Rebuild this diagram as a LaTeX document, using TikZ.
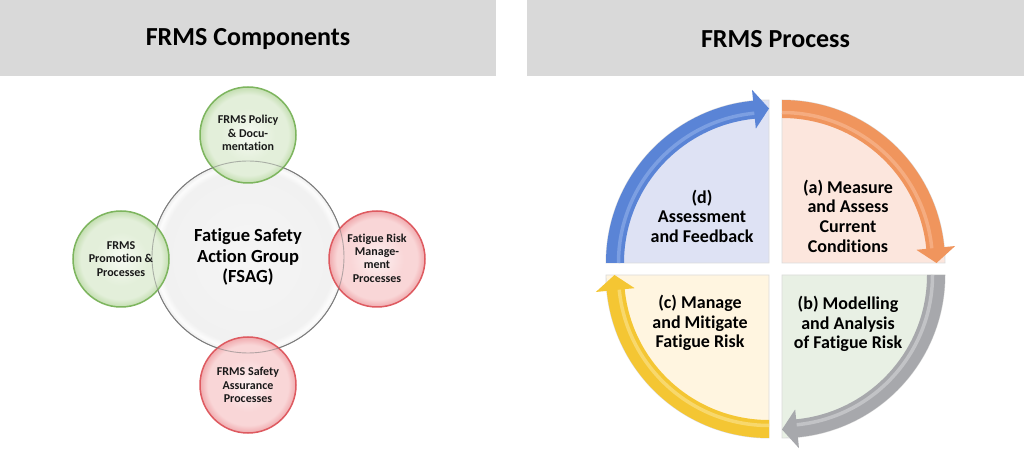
\documentclass[tikz,border=0pt]{standalone}
\usepackage{fontspec}
\setmainfont{Carlito}[Ligatures={NoCommon}]
\definecolor{hdrgray}{HTML}{D9D9D9}
\definecolor{grnline}{HTML}{7DB55E}
\definecolor{grnin}{HTML}{F6FAF2}
\definecolor{grnmid}{HTML}{E3EFDA}
\definecolor{grnout}{HTML}{C3DEB0}
\definecolor{redline}{HTML}{DE5A60}
\definecolor{redin}{HTML}{FDF2F2}
\definecolor{redmid}{HTML}{F9D6D7}
\definecolor{redout}{HTML}{F0AAAE}
\definecolor{bigin}{HTML}{F5F5F5}
\definecolor{bigmid}{HTML}{F1F1F1}
\definecolor{bigring}{HTML}{FCFCFC}
\definecolor{bigout}{HTML}{EDEDED}
\definecolor{bigline}{HTML}{7A7A7A}
\definecolor{bluband}{HTML}{5A84D6}
\definecolor{blustripe}{HTML}{7C9FE2}
\definecolor{blufill}{HTML}{DEE2F4}
\definecolor{orband}{HTML}{F0955D}
\definecolor{orstripe}{HTML}{F5AC80}
\definecolor{orfill}{HTML}{FCE6DD}
\definecolor{grband}{HTML}{A7A8AC}
\definecolor{grstripe}{HTML}{C2C3C6}
\definecolor{grfill}{HTML}{E8F0E4}
\definecolor{yeband}{HTML}{F4C633}
\definecolor{yestripe}{HTML}{F8D86C}
\definecolor{yefill}{HTML}{FFF5E0}
\pgfdeclareradialshading{greenball}{\pgfpoint{0bp}{0bp}}{color(0bp)=(grnin); color(14bp)=(grnmid); color(21bp)=(grnmid); color(25bp)=(grnout); color(50bp)=(grnout)}
\pgfdeclareradialshading{redball}{\pgfpoint{0bp}{0bp}}{color(0bp)=(redin); color(14bp)=(redmid); color(21bp)=(redmid); color(25bp)=(redout); color(50bp)=(redout)}
\pgfdeclareradialshading{bigball}{\pgfpoint{0bp}{0bp}}{color(0bp)=(bigin); color(22.5bp)=(bigmid); color(24bp)=(bigring); color(25bp)=(bigout); color(50bp)=(bigout)}
\newcommand\myquad[6]{%
  \begin{scope}[shift={(#1,#2)}]
    \pgfmathsetmacro\qe{#3-90}
    \pgfmathsetmacro\qb{#3-84.4}
    \filldraw[fill=#6, draw=black!14, line width=0.9bp] (0,0) -- (#3:163) arc[start angle=#3, end angle=\qe, radius=163] -- cycle;
    \fill[#4] (#3:163) arc[start angle=#3, end angle=\qb, radius=163] -- (\qb:174) -- (\qe:154.5) -- (\qb:135) -- (\qb:145) arc[start angle=\qb, end angle=#3, radius=145] -- cycle;
    \draw[#5, line width=3.5bp] (#3:150.5) arc[start angle=#3, end angle=\qb, radius=150.5];
  \end{scope}}
\begin{document}
\begin{tikzpicture}[x=1bp,y=1bp,
  title/.style={font=\bfseries\fontsize{26bp}{30bp}\selectfont, text=black},
  qtext/.style={font=\bfseries\fontsize{18bp}{19.6bp}\selectfont, align=center, text=black, inner sep=0},
  ctext/.style={font=\bfseries\fontsize{12bp}{13.3bp}\selectfont, align=center, text=black!90, inner sep=0},
  bigtext/.style={font=\bfseries\fontsize{18.5bp}{20.5bp}\selectfont, align=center, text=black, inner sep=0},
  smallc/.style={circle, minimum size=96bp, inner sep=0, shade, line width=1.5bp},
  gcirc/.style={smallc, shading=greenball, draw=grnline},
  rcirc/.style={smallc, shading=redball, draw=redline},
  bigc/.style={circle, minimum size=192bp, inner sep=0, shade, shading=bigball, draw=bigline, line width=0.9bp}
]
\useasboundingbox (0,0) rectangle (1024,-458);
\fill[white] (0,0) rectangle (1024,-458);
% headers
\fill[hdrgray] (0,0) rectangle (496,-76);
\fill[hdrgray] (527,0) rectangle (1024,-76);
\node (t1) [title] at (248,-39) {FRMS Components};
\node (t2) [title] at (775.5,-39) {FRMS Process};
% left diagram
\node (fsag) [bigc] at (248,-257) {};
\node (pol) [gcirc] at (248,-135) {};
\node (pro) [gcirc] at (121,-259) {};
\node (frm) [rcirc] at (377,-259) {};
\node (sa)  [rcirc] at (248,-385) {};
\draw[bigline, draw opacity=0.55, line width=0.9bp] (fsag.center) circle[radius=96];
\node (fsagt) [bigtext] at (fsag.center) {Fatigue Safety\\Action Group\\(FSAG)};
\node (polt) [ctext] at ([yshift=2]pol.center) {FRMS Policy\\\& Docu-\\mentation};
\node (prot) [ctext] at (pro.center) {FRMS\\Promotion \&\\Processes};
\node (frmt) [ctext] at ([yshift=1]frm.center) {Fatigue Risk\\Manage-\\ment\\Processes};
\node (sat)  [ctext] at (sa.center) {FRMS Safety\\Assurance\\Processes};
% right diagram
\myquad{769}{-263}{180}{bluband}{blustripe}{blufill}
\myquad{782}{-263}{90}{orband}{orstripe}{orfill}
\myquad{782}{-275}{0}{grband}{grstripe}{grfill}
\myquad{769}{-275}{-90}{yeband}{yestripe}{yefill}
\node (qa) [qtext] at (848,-216) {(a) Measure\\and Assess\\Current\\Conditions};
\node (qb) [qtext] at (848,-324) {(b) Modelling\\and Analysis\\of Fatigue Risk};
\node (qc) [qtext] at (700,-323) {(c) Manage\\and Mitigate\\Fatigue Risk};
\node (qd) [qtext] at (702,-216) {(d)\\Assessment\\and Feedback};
\end{tikzpicture}
\end{document}
